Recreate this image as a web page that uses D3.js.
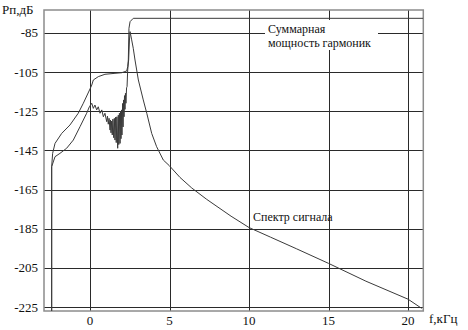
<!DOCTYPE html>
<html>
<head>
<meta charset="utf-8">
<script src="https://cdn.jsdelivr.net/npm/d3@7"></script>
</head>
<body style="margin:0">
<svg id="chart" width="468" height="330"></svg>
<script>
// Frequency ticks (kHz) and level ticks (dB)
const xTicks = [0, 5, 10, 15, 20];
const yTicks = [-85, -105, -125, -145, -165, -185, -205, -225];

// Total harmonic power, [f kHz, dB]
const harmonicPower = [
  [-2.41, -227], [-2.41, -153.3], [-2.35, -146.5], [-2.20, -141.4], [-1.78, -136.3],
  [-1.26, -132.0], [-0.74, -126.0], [-0.42, -120.9], [0.0, -113.6], [0.11, -111.6],
  [0.21, -109.0], [0.52, -107.3], [0.94, -106.1], [1.57, -105.6], [1.99, -105.3],
  [2.31, -104.4], [2.37, -102.2], [2.41, -98.8], [2.45, -82.6], [2.52, -79.2],
  [2.72, -77.5], [20.96, -77.5]
];

// Signal spectrum, [f kHz, dB]
const signalSpectrum = [
  [-2.41, -227], [-2.41, -153.3], [-2.20, -148.2], [-1.89, -146.5], [-1.47, -143.9],
  [-1.05, -139.7], [-0.63, -132.9], [-0.21, -126.0], [-0.04, -122.7], [0.11, -120.9],
  [0.21, -123.5], [0.31, -121.8], [0.42, -124.3], [0.52, -122.7], [0.63, -126.0],
  [0.74, -124.3], [0.84, -127.8], [0.94, -126.0], [1.05, -130.3], [1.10, -127.5],
  [1.15, -131.6], [1.20, -128.6], [1.26, -134.6], [1.29, -129.5], [1.32, -136.0],
  [1.36, -130.0], [1.40, -137.1], [1.44, -129.0], [1.49, -138.5], [1.53, -128.6],
  [1.57, -139.7], [1.61, -128.0], [1.65, -141.0], [1.69, -127.8], [1.74, -143.9],
  [1.78, -127.0], [1.81, -142.0], [1.85, -126.0], [1.89, -141.4], [1.92, -125.0],
  [1.95, -139.0], [1.98, -124.3], [2.01, -137.1], [2.05, -121.0], [2.08, -133.0],
  [2.11, -119.2], [2.14, -127.8], [2.17, -117.0], [2.20, -124.0], [2.23, -115.8],
  [2.26, -120.9], [2.30, -113.0], [2.33, -112.4], [2.37, -103.9], [2.43, -98.8],
  [2.48, -88.6], [2.52, -84.3], [2.62, -88.5], [2.72, -92.8], [2.83, -98.8],
  [3.04, -109.0], [3.35, -119.2], [3.57, -126.0], [3.88, -136.3], [4.19, -143.1],
  [4.61, -149.9], [4.99, -152.8], [5.66, -158.8], [6.40, -164.2], [7.34, -170.0],
  [8.87, -178.6], [10.0, -184.4], [11.35, -189.3], [13.0, -195.3], [15.0, -202.7],
  [17.35, -211.8], [20.0, -221.0], [20.86, -225.7]
];

const svg = d3.select("#chart");
const W = 468, H = 330;
svg.append("rect").attr("width", W).attr("height", H).attr("fill", "#fff");

const plot = { left: 44, right: 423.3, top: 10, bottom: 311 };
const x = d3.scaleLinear().domain([-2.893, 20.96]).range([plot.left, plot.right]);
const y = d3.scaleLinear().domain([-227.04, -73.25]).range([plot.bottom, plot.top]);

// Grid
const grid = svg.append("g").attr("stroke", "#2a2a2a").attr("stroke-width", 1).attr("shape-rendering", "crispEdges");
grid.selectAll("line.v").data(xTicks).join("line")
  .attr("x1", d => Math.round(x(d)) + 0.5).attr("x2", d => Math.round(x(d)) + 0.5)
  .attr("y1", plot.top).attr("y2", plot.bottom);
grid.selectAll("line.h").data(yTicks).join("line")
  .attr("y1", d => Math.round(y(d)) + 0.5).attr("y2", d => Math.round(y(d)) + 0.5)
  .attr("x1", plot.left).attr("x2", plot.right);

// Frame
svg.append("rect")
  .attr("x", plot.left).attr("y", plot.top)
  .attr("width", plot.right - plot.left).attr("height", plot.bottom - plot.top)
  .attr("fill", "none").attr("stroke", "#8c8c8c").attr("stroke-width", 1.5);

// Label background for the harmonic power caption
svg.append("rect").attr("x", 265).attr("y", 20).attr("width", 113).attr("height", 30).attr("fill", "#fff");

// Curves
const line = d3.line().x(d => x(d[0])).y(d => y(d[1]));
svg.append("clipPath").attr("id", "plotClip").append("rect")
  .attr("x", plot.left).attr("y", plot.top)
  .attr("width", plot.right - plot.left).attr("height", plot.bottom - plot.top);
const curves = svg.append("g").attr("clip-path", "url(#plotClip)").attr("fill", "none");
curves.append("path").datum(harmonicPower).attr("d", line)
  .attr("stroke", "#3a3a3a").attr("stroke-width", 1);
curves.append("path").datum(signalSpectrum).attr("d", line)
  .attr("stroke", "#3a3a3a").attr("stroke-width", 1);

// Text items: [x, y, size, anchor, string]
const labels = [];
yTicks.forEach(d => labels.push([38, y(d) + 4.5, 13, "end", String(d)]));
xTicks.forEach(d => labels.push([x(d), 325, 13, "middle", String(d)]));
labels.push([2, 14, 13, "start", "Рп,дБ"]);
labels.push([429, 323, 13, "start", "f,кГц"]);
labels.push([268, 33, 12, "start", "Суммарная"]);
labels.push([268, 47, 12, "start", "мощность гармоник"]);
labels.push([253, 221, 12, "start", "Спектр сигнала"]);

svg.selectAll("text").data(labels).join("text")
  .attr("x", d => d[0]).attr("y", d => d[1])
  .attr("font-size", d => d[2])
  .attr("text-anchor", d => d[3])
  .attr("fill", "#111")
  .style("font-family", () => `"Liberation Serif"`)
  .text(d => d[4]);
</script>
</body>
</html>
